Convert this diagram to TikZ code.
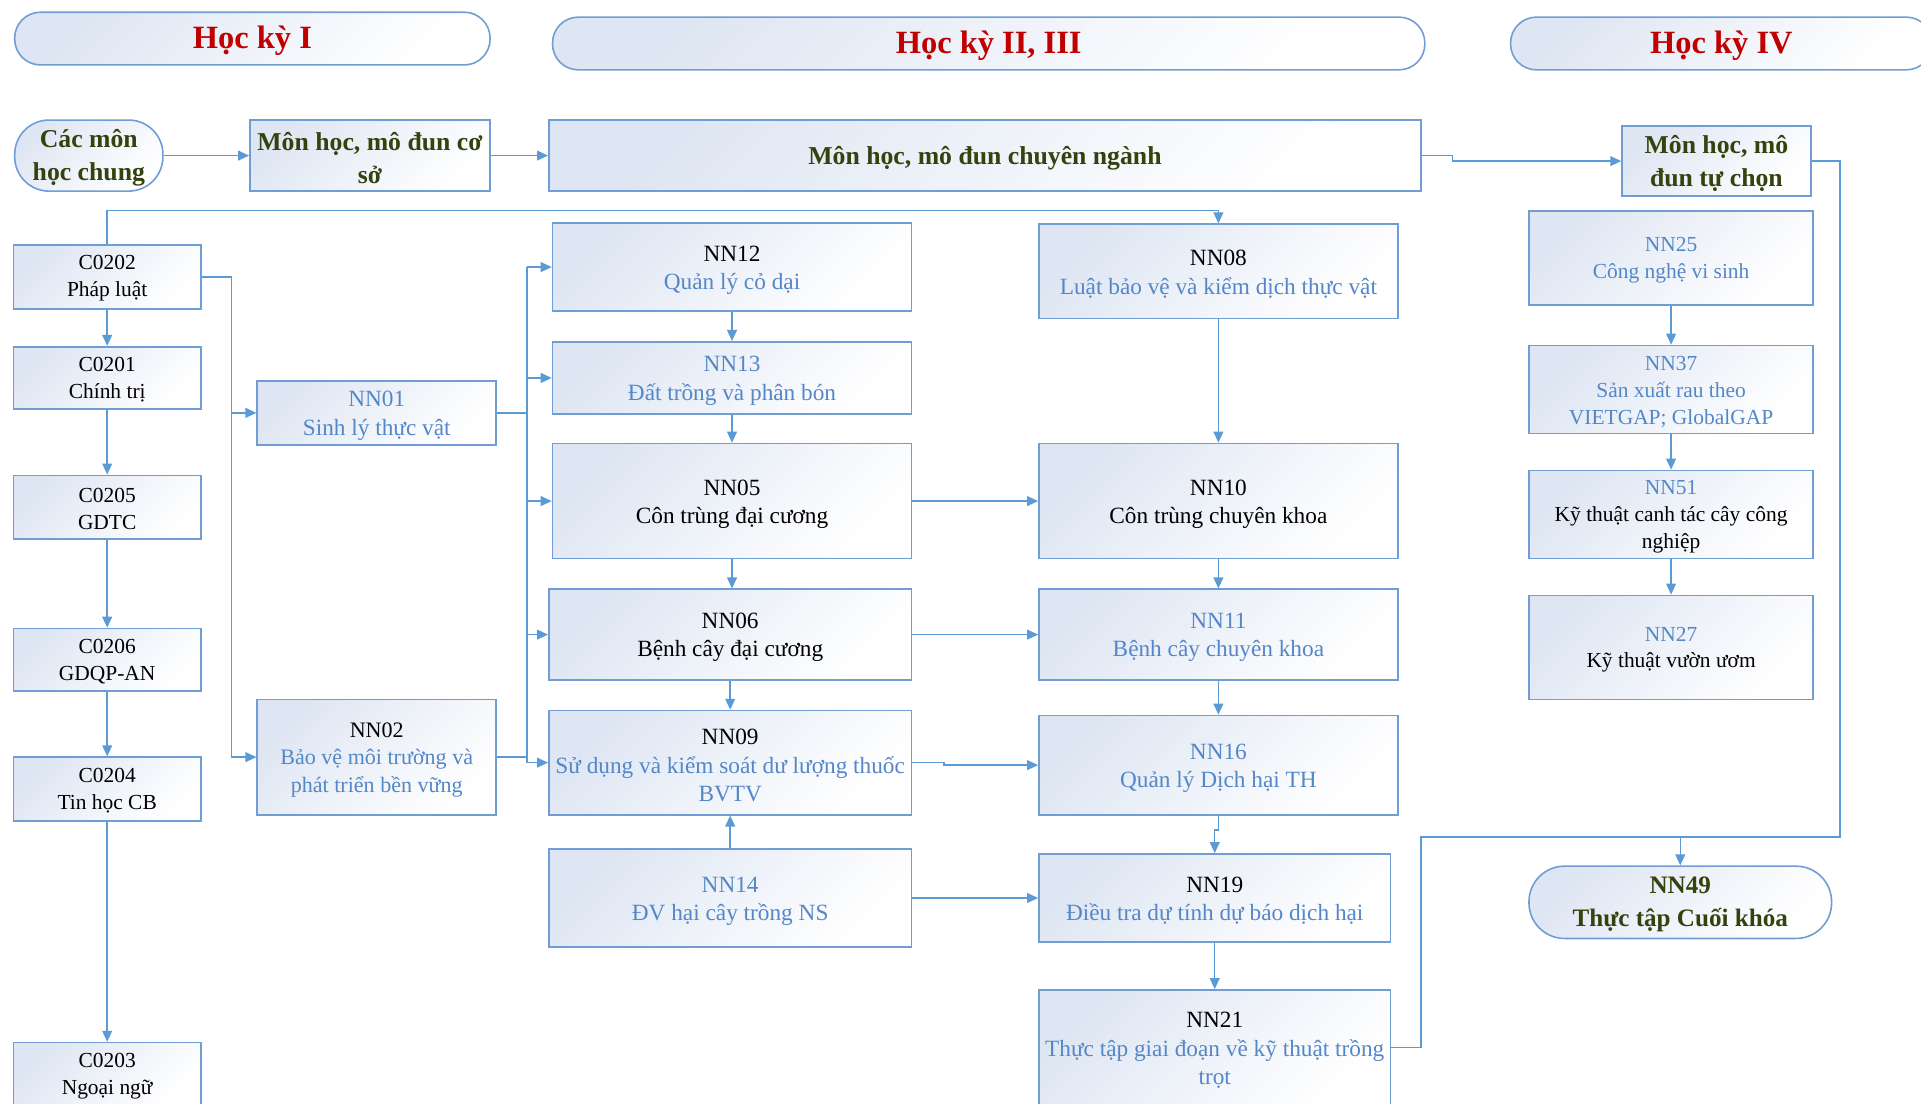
\documentclass[tikz,border=0pt]{standalone}
\usepackage{fontspec}
\setmainfont{Liberation Serif}
\usetikzlibrary{arrows.meta,calc}
\definecolor{linec}{RGB}{91,155,213}
\definecolor{bordc}{RGB}{112,158,212}
\definecolor{fillc}{RGB}{222,230,243}
\definecolor{bluetxt}{RGB}{84,135,200}
\definecolor{redtxt}{RGB}{192,0,0}
\definecolor{olivetxt}{RGB}{52,66,14}
\newcommand\fsA{\fontsize{19}{23}\selectfont}
\newcommand\fsB{\fontsize{17.5}{22}\selectfont}
\newcommand\fsH{\fontsize{26.5}{30}\selectfont}
\newcommand\fsM{\fontsize{21}{27}\selectfont}
\newcommand\bt[1]{\textcolor{bluetxt}{#1}}
\def\liftamt{4pt}
\newcommand\lft{\rule{0pt}{\dimexpr0.7em+\liftamt\relax}}
\begin{document}
\begin{tikzpicture}[x=1pt,y=-1pt,
  lift/.code={\def\liftamt{#1}},
  box/.style={draw=bordc, line width=1.3pt, left color=fillc, right color=white, shading angle=45, inner sep=0pt, align=center, font=\fsA, text=black, lift=4pt},
  sz/.style 2 args={minimum width=#1, minimum height=#2},
  hdr/.style={box, rounded corners=21pt, font=\fsH\bfseries, text=redtxt, lift=4pt},
  grp/.style={box, font=\fsM\bfseries, text=olivetxt, lift=4pt},
  cbox/.style={box, font=\fsB, lift=2pt},
  ebox/.style={box, font=\fsB, lift=3pt},
  wire/.style={draw=linec, line width=1.2pt},
  conn/.style={wire, -{Triangle[length=9pt,width=8pt]}}
]
\clip (0,0) rectangle (1568,901);
\fill[white] (0,0) rectangle (1568,901);

% headers
\node[hdr, sz={388}{43}] (h1) at (206,31.5) {\lft Học kỳ I};
\node[hdr, sz={712}{43}] (h2) at (807,35.5) {\lft Học kỳ II, III};
\node[hdr, sz={344}{43}] (h4) at (1405,35.5) {\lft Học kỳ IV};

% group row
\node[grp, sz={121}{58}, rounded corners=28pt] (cm) at (72.5,127) {\lft Các môn\\học chung};
\node[grp, sz={196}{58}] (cs) at (302,127) {\lft Môn học, mô đun cơ\\sở};
\node[grp, sz={712}{58}] (cn) at (804,127) {\lft Môn học, mô đun chuyên ngành};
\node[grp, sz={154}{57}] (tc) at (1401,131.5) {\lft Môn học, mô\\đun tự chọn};

% column 1
\node[cbox, sz={153}{52}] (c0202) at (87.5,226) {\lft C0202\\Pháp luật};
\node[cbox, sz={153}{51}] (c0201) at (87.5,308.5) {\lft C0201\\Chính trị};
\node[cbox, sz={153}{52}] (c0205) at (87.5,414) {\lft C0205\\GDTC};
\node[cbox, sz={153}{51}] (c0206) at (87.5,538.5) {\lft C0206\\GDQP-AN};
\node[cbox, sz={153}{52}] (c0204) at (87.5,644) {\lft C0204\\Tin học CB};
\node[cbox, sz={153}{52}] (c0203) at (87.5,877) {\lft C0203\\Ngoại ngữ};

% column 2
\node[box, sz={195}{52}] (nn01) at (307.5,337) {\lft\bt{NN01}\\\bt{Sinh lý thực vật}};
\node[box, sz={195}{94}, font=\fontsize{18}{22.5}\selectfont] (nn02) at (307.5,618) {\lft NN02\\\bt{Bảo vệ môi trường và}\\\bt{phát triển bền vững}};

% column 3
\node[box, sz={293}{72}] (nn12) at (597.5,218) {\lft NN12\\\bt{Quản lý cỏ dại}};
\node[box, sz={293}{59}] (nn13) at (597.5,308.5) {\lft\bt{NN13}\\\bt{Đất trồng và phân bón}};
\node[box, sz={293}{94}] (nn05) at (597.5,409) {\lft NN05\\Côn trùng đại cương};
\node[box, sz={296}{74}] (nn06) at (596,518) {\lft NN06\\Bệnh cây đại cương};
\node[box, sz={296}{85}] (nn09) at (596,622.5) {\lft NN09\\\bt{Sử dụng và kiểm soát dư lượng thuốc}\\\bt{BVTV}};
\node[box, sz={296}{80}] (nn14) at (596,733) {\lft\bt{NN14}\\\bt{ĐV hại cây trồng NS}};

% column 4
\node[box, sz={293}{77}] (nn08) at (994.5,221.5) {\lft NN08\\\bt{Luật bảo vệ và kiểm dịch thực vật}};
\node[box, sz={293}{94}] (nn10) at (994.5,409) {\lft NN10\\Côn trùng chuyên khoa};
\node[box, sz={293}{74}] (nn11) at (994.5,518) {\lft\bt{NN11}\\\bt{Bệnh cây chuyên khoa}};
\node[box, sz={293}{81}] (nn16) at (994.5,624.5) {\lft\bt{NN16}\\\bt{Quản lý Dịch hại TH}};
\node[box, sz={287}{72}] (nn19) at (991.5,733) {\lft NN19\\\bt{Điều tra dự tính dự báo dịch hại}};
\node[box, sz={287}{94}] (nn21) at (991.5,855) {\lft NN21\\\bt{Thực tập giai đoạn về kỹ thuật trồng}\\\bt{trọt}};

% column 5
\node[ebox, sz={232}{77}] (nn25) at (1364,210.5) {\lft\bt{NN25}\\\bt{Công nghệ vi sinh}};
\node[ebox, sz={232}{72}] (nn37) at (1364,318) {\lft\bt{NN37}\\\bt{Sản xuất rau theo}\\\bt{VIETGAP; GlobalGAP}};
\node[ebox, sz={232}{72}] (nn51) at (1364,420) {\lft\bt{NN51}\\Kỹ thuật canh tác cây công\\nghiệp};
\node[ebox, sz={232}{85}] (nn27) at (1364,528.5) {\lft\bt{NN27}\\Kỹ thuật vườn ươm};
\node[grp, sz={247}{59}, rounded corners=29pt, font=\fontsize{20.5}{27}\selectfont\bfseries, lift=2pt] (nn49) at (1371.5,736.5) {\lft NN49\\Thực tập Cuối khóa};

% coordinates
\coordinate (t1) at (994.5,172);
\coordinate (b1) at (189,226);
\coordinate (bus) at (430,0);
\coordinate (j1) at (1502,683);
\coordinate (j2) at (1160,683);

% group row connectors
\draw[conn] (cm.east) -- (cs.west);
\draw[conn] (cs.east) -- (cn.west);
\draw[conn] (cn.east) -- ++(25,0) |- (tc.west);
\draw[wire] (tc.east) -| (j1) -- (j2) |- (nn21.east);
\draw[conn] (j1 -| nn49.north) -- (nn49.north);

% top line to NN08
\draw[conn] (c0202.north) |- (t1) -- (nn08.north);

% column 1
\draw[conn] (c0202.south) -- (c0201.north);
\draw[conn] (c0201.south) -- (c0205.north);
\draw[conn] (c0205.south) -- (c0206.north);
\draw[conn] (c0206.south) -- (c0204.north);
\draw[conn] (c0204.south) -- (c0203.north);

% column 1 -> column 2
\draw[conn] (c0202.east) -- (b1) |- (nn02.west);
\draw[conn] (b1 |- nn01.west) -- (nn01.west);

% bus to column 3
\draw[wire] (nn01.east) -- (bus |- nn01.east);
\draw[wire] (nn02.east) -- (bus |- nn02.east);
\draw[wire] (bus |- nn12.west) -- (bus |- nn09.west);
\draw[conn] (bus |- nn12.west) -- (nn12.west);
\draw[conn] (bus |- nn13.west) -- (nn13.west);
\draw[conn] (bus |- nn05.west) -- (nn05.west);
\draw[conn] (bus |- nn06.west) -- (nn06.west);
\draw[conn] (bus |- nn09.west) -- (nn09.west);

% column 3
\draw[conn] (nn12.south) -- (nn13.north);
\draw[conn] (nn13.south) -- (nn05.north);
\draw[conn] (nn05.south) -- (nn05.south |- nn06.north);
\draw[conn] (nn06.south) -- (nn09.north);
\draw[conn] (nn14.north) -- (nn09.south);

% column 3 -> column 4
\draw[conn] (nn05.east) -- (nn10.west);
\draw[conn] (nn06.east) -- (nn11.west);
\draw[conn] (nn09.east) -- ++(26,0) |- (nn16.west);
\draw[conn] (nn14.east) -- (nn19.west);

% column 4
\draw[conn] (nn08.south) -- (nn10.north);
\draw[conn] (nn10.south) -- (nn11.north);
\draw[conn] (nn11.south) -- (nn16.north);
\draw[conn] (nn16.south) -- ++(0,12) -| (nn19.north);
\draw[conn] (nn19.south) -- (nn21.north);

% column 5
\draw[conn] (nn25.south) -- (nn37.north);
\draw[conn] (nn37.south) -- (nn51.north);
\draw[conn] (nn51.south) -- (nn27.north);
\end{tikzpicture}
\end{document}
